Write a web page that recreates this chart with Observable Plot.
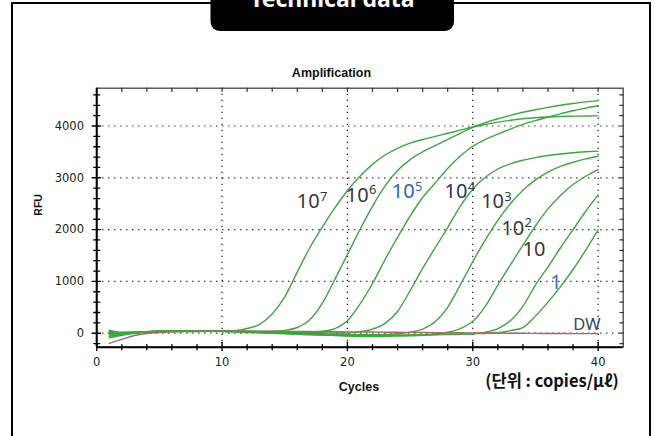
<!DOCTYPE html>
<html>
<head>
<meta charset="utf-8">
<script src="https://cdn.jsdelivr.net/npm/d3@7"></script>
<script src="https://cdn.jsdelivr.net/npm/@observablehq/plot@0.6"></script>
<style>
html, body { margin: 0; padding: 0; background: #fff; overflow: hidden; width: 655px; height: 436px; }
#chart { position: absolute; left: 0; top: 0; }
#deco { position: absolute; left: 0; top: 0; pointer-events: none; }
</style>
</head>
<body>
<div id="chart"></div>
<svg id="deco" width="655" height="436">
  <rect x="12" y="3" width="638" height="470" fill="none" stroke="#000" stroke-width="2"></rect>
  <rect x="210.5" y="-20" width="243.5" height="51" rx="9" fill="#000"></rect>
  <text x="332.3" y="7" text-anchor="middle" fill="#fff" font-family="Noto Sans" font-weight="700" font-size="23">Technical data</text>
</svg>
<script>
// ---- data ----
const cycles = [1,2,3,4,5,6,7,8,9,10,11,12,13,14,15,16,17,18,19,20,21,22,23,24,25,26,27,28,29,30,31,32,33,34,35,36,37,38,39,40];
const seriesNames = ["1e7","1e6","1e5","1e4","1e3","1e2","1e1","1e0"];
const rfu1e7 = [-90,-40,0,20,40,45,40,45,50,45, 50,90,170,370,700,1180,1650,2050,2420,2750, 3030,3260,3440,3570,3670,3740,3800,3860,3920,3980, 4030,4075,4110,4140,4160,4175,4185,4190,4193,4195];
const rfu1e6 = [-60,-30,10,25,45,40,45,40,50,45, 40,35,35,40,55,110,260,580,1040,1520, 2000,2450,2840,3140,3350,3500,3620,3740,3860,3975, 4065,4140,4205,4265,4315,4360,4400,4435,4465,4490];
const rfu1e5 = [-30,-20,0,30,40,50,45,40,45,40, 40,35,30,30,25,25,30,40,90,240, 560,960,1420,1850,2260,2620,2900,3180,3420,3610, 3740,3845,3940,4030,4105,4175,4235,4295,4345,4390];
const rfu1e4 = [-10,-10,10,20,35,40,40,45,40,45, 40,35,30,25,20,15,10,10,5,5, 30,80,190,420,820,1250,1650,2040,2450,2780, 3010,3170,3270,3340,3390,3430,3460,3485,3502,3515];
const rfu1e3 = [0,-5,10,20,30,35,40,40,35,40, 35,30,25,20,10,5,0,-10,-20,-25, -30,-30,-25,-10,20,80,220,500,930,1380, 1800,2180,2500,2760,2960,3110,3220,3300,3365,3417];
const rfu1e2 = [20,5,15,25,35,30,35,40,40,35, 30,25,20,10,0,-10,-20,-30,-40,-45, -50,-50,-45,-40,-35,-30,-15,20,90,230, 520,930,1320,1700,2070,2400,2660,2870,3030,3160];
const rfu1e1 = [40,10,20,30,35,40,35,35,40,35, 30,20,15,5,0,-10,-20,-30,-45,-55, -60,-65,-60,-55,-50,-40,-30,-25,-20,-10, 20,90,240,520,930,1280,1650,2000,2350,2670];
const rfu1e0 = [60,20,25,30,40,40,35,30,35,30, 25,20,10,0,-10,-20,-30,-35,-40,-45, -50,-50,-45,-40,-35,-30,-25,-20,-15,-10, -5,10,50,110,330,600,900,1230,1600,1995];
const rfuDW  = [-195,-120,-45,-5,15,25,30,35,40,40, 40,40,40,38,36,35,33,30,28,26, 24,22,20,18,16,14,12,10,8,6, 4,2,0,-2,-4,-5,-6,-7,-8,-8];

// curve labels
const labelBase  = ["10","10","10","10","10","10","10","1","DW"];
const labelExp   = ["7","6","5","4","3","2","","",""];
const labelX     = [15.96,19.87,23.54,27.74,30.67,32.27,33.97,36.18,38.02];
const labelY     = [2421,2542,2614,2614,2421,1905,1486,844,71];
const labelColor = ["#383838","#383838","#2a66b5","#2b3650","#383838","#383838","#383838","#3d72b0","#3a4660"];
const labelSize  = [20,20,20,20,20,20,20,20,16.5];

// axes
const xDomain = [0, 42];
const yDomain = [-270, 4730];
const xMajor = [0,10,20,30,40];
const xGrid = [10,20,30,40];
const xMinor = [2,4,6,8,12,14,16,18,22,24,26,28,32,34,36,38];
const xTop = [2,4,6,8,10,12,14,16,18,20,22,24,26,28,30,32,34,36,38,40];
const yMajor = [0,1000,2000,3000,4000];
const yMinor = [-200,200,400,600,800,1200,1400,1600,1800,2200,2400,2600,2800,3200,3400,3600,3800,4200,4400,4600];

// ---- build tables ----
const seriesValues = [rfu1e7, rfu1e6, rfu1e5, rfu1e4, rfu1e3, rfu1e2, rfu1e1, rfu1e0];
const curves = seriesNames.flatMap((s, k) => cycles.map((c, i) => ({series: s, cycle: c, rfu: seriesValues[k][i]})));
const dwCurve = cycles.map((c, i) => ({cycle: c, rfu: rfuDW[i]}));
const labels = labelBase.map((b, i) => ({base: b, exp: labelExp[i], x: labelX[i], y: labelY[i], color: labelColor[i], size: labelSize[i]}));
const yAll = [...yMajor, ...yMinor];

const tickShape = {draw(context, l) { context.moveTo(0, 0); context.lineTo(0, -l); }};
const dotted = {stroke: "#111", strokeWidth: 1.2, strokeDasharray: "1.2,4.8"};

const chart = Plot.plot({
  width: 655,
  height: 436,
  marginLeft: 96.2,
  marginRight: 32.3,
  marginTop: 87.7,
  marginBottom: 89.3,
  style: {fontFamily: "DejaVu Sans", fontSize: "11.5px", color: "#222", background: "transparent"},
  x: {domain: xDomain, ticks: xMajor, tickSize: 0, tickPadding: 10.6, label: null, tickFormat: d => String(d)},
  y: {domain: yDomain, ticks: yMajor, tickSize: 0, tickPadding: 12.7, label: null, tickFormat: d => String(d)},
  marks: [
    Plot.ruleY(yMajor, dotted),
    Plot.ruleX(xGrid, dotted),
    Plot.frame({stroke: "#444", strokeWidth: 1.3}),
    Plot.ruleX([xDomain[0]], {stroke: "#000", strokeWidth: 2}),
    Plot.ruleY([yDomain[0]], {stroke: "#000", strokeWidth: 2}),
    // left axis ticks (crossing)
    Plot.vector(yMajor, {y: d => d, frameAnchor: "left", rotate: 90, length: 8.3, anchor: "middle", shape: tickShape, stroke: "#000", strokeWidth: 1.4, dx: -0.4}),
    Plot.vector(yMinor, {y: d => d, frameAnchor: "left", rotate: 90, length: 6, anchor: "middle", shape: tickShape, stroke: "#000", strokeWidth: 1.3}),
    // bottom axis ticks (crossing)
    Plot.vector(xMajor, {x: d => d, frameAnchor: "bottom", rotate: 0, length: 8.3, anchor: "middle", shape: tickShape, stroke: "#000", strokeWidth: 1.4, dy: -0.8}),
    Plot.vector(xMinor, {x: d => d, frameAnchor: "bottom", rotate: 0, length: 5.3, anchor: "middle", shape: tickShape, stroke: "#000", strokeWidth: 1.3}),
    // top and right inward ticks
    Plot.vector(xTop, {x: d => d, frameAnchor: "top", rotate: 180, length: 3.3, anchor: "start", shape: tickShape, stroke: "#333", strokeWidth: 1.2}),
    Plot.vector(yAll, {y: d => d, frameAnchor: "right", rotate: -90, length: 3.3, anchor: "start", shape: tickShape, stroke: "#333", strokeWidth: 1.2}),
    // amplification curves
    Plot.line(curves, {x: "cycle", y: "rfu", z: "series", stroke: "#3ea63e", strokeWidth: 1.4, curve: "monotone-x"}),
    Plot.line(dwCurve, {x: "cycle", y: "rfu", stroke: "#a86868", strokeWidth: 1.4, curve: "monotone-x"}),
    // curve labels
    Plot.text(labels, {x: "x", y: "y", text: "base", fill: "color", fontSize: d => d.size, fontFamily: "Noto Sans", textAnchor: "start", lineAnchor: "bottom"}),
    Plot.text(labels, {x: "x", y: "y", text: "exp", fill: "color", fontSize: 13, fontFamily: "Noto Sans", textAnchor: "start", lineAnchor: "bottom", dx: 23.2, dy: -7.3}),
    // titles
    Plot.text(["Amplification"], {text: d => d, frameAnchor: "top", lineAnchor: "middle", dx: -28.5, dy: -15.4, fontWeight: "bold", fontSize: 12.5, fontFamily: "Liberation Sans", fill: "#111"}),
    Plot.text(["Cycles"], {text: d => d, frameAnchor: "bottom", lineAnchor: "middle", dx: -1, dy: 39.3, fontWeight: "bold", fontSize: 12.5, fontFamily: "Liberation Sans", fill: "#111"}),
    Plot.text(["RFU"], {text: d => d, frameAnchor: "left", lineAnchor: "middle", dx: -58.2, dy: -2, rotate: -90, fontWeight: "bold", fontSize: 10.5, fontFamily: "Liberation Sans", fill: "#111"}),
    Plot.text(["(단위 : copies/μℓ)"], {text: d => d, frameAnchor: "bottom-right", lineAnchor: "middle", textAnchor: "end", dx: -4.5, dy: 34.3, fontWeight: "bold", fontSize: 16.5, fontFamily: "Noto Sans CJK KR", fill: "#111"})
  ]
});
document.getElementById("chart").appendChild(chart);
</script>
</body>
</html>
